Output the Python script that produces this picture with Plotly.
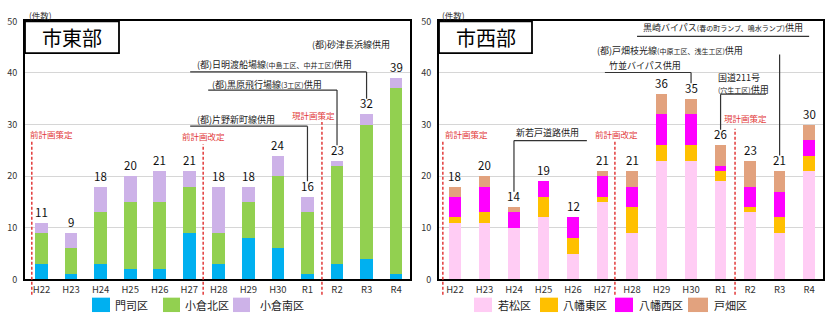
import plotly.graph_objects as go

W, H = 832, 319

years = ["H22", "H23", "H24", "H25", "H26", "H27", "H28", "H29", "H30", "R1", "R2", "R3", "R4"]

# 市東部
east_names = ["門司区", "小倉北区", "小倉南区"]
moji = [3, 1, 3, 2, 2, 9, 3, 8, 6, 1, 3, 4, 1]
kokura_kita = [6, 5, 10, 13, 13, 9, 6, 7, 14, 12, 19, 26, 36]
kokura_minami = [2, 3, 5, 5, 6, 3, 9, 3, 4, 3, 1, 2, 2]

# 市西部
west_names = ["若松区", "八幡東区", "八幡西区", "戸畑区"]
wakamatsu = [11, 11, 10, 12, 5, 15, 9, 23, 23, 19, 13, 9, 21]
yahata_higashi = [1, 2, 0, 4, 3, 1, 5, 3, 3, 2, 1, 3, 3]
yahata_nishi = [4, 5, 3, 3, 4, 4, 4, 6, 6, 1, 4, 5, 3]
tobata = [2, 2, 1, 0, 0, 1, 3, 4, 3, 4, 5, 4, 3]

east_colors = ["#00B0F0", "#92D050", "#CDB2E8"]
west_colors = ["#FFCCF4", "#FFC000", "#FF00FF", "#E2A27E"]

east_series = [moji, kokura_kita, kokura_minami]
west_series = [wakamatsu, yahata_higashi, yahata_nishi, tobata]
east_total = [sum(v) for v in zip(*east_series)]
west_total = [sum(v) for v in zip(*west_series)]

JP = "Noto Sans CJK JP"
RED = "#E23A3A"


def px(x):
    return x / W


def py(y):
    return 1 - y / H


fig = go.Figure()
for name, vals, col in zip(east_names, east_series, east_colors):
    fig.add_trace(go.Bar(x=years, y=vals, name=name, marker_color=col, marker_line_width=0,
                         width=0.43, xaxis="x", yaxis="y", showlegend=False))
for name, vals, col in zip(west_names, west_series, west_colors):
    fig.add_trace(go.Bar(x=years, y=vals, name=name, marker_color=col, marker_line_width=0,
                         width=0.39, xaxis="x2", yaxis="y2", showlegend=False))

annotations = []
shapes = []

# totals
for xr, yr, totals in (("x", "y", east_total), ("x2", "y2", west_total)):
    for yv, t in zip(years, totals):
        annotations.append(dict(x=yv, y=t, xref=xr, yref=yr, text=str(t), showarrow=False,
                                yanchor="bottom", yshift=1, font=dict(size=11.5, color="#111", family=JP)))


def small(s):
    return "<span style='font-size:7px'>" + s + "</span>"


def note(xr, yr, text, tx, ty, xanchor="left", under=None, vert=None, size=9):
    annotations.append(dict(x=tx, y=ty, xref=xr, yref=yr, text=text, showarrow=False,
                            xanchor=xanchor, yanchor="middle", align="left",
                            font=dict(size=size, color="#222", family=JP)))
    if under:
        x0, x1, yy = under
        shapes.append(dict(type="line", xref=xr, yref=yr, x0=x0, x1=x1, y0=yy, y1=yy,
                           line=dict(color="#333", width=1.2)))
    if vert:
        xx, y0, y1 = vert
        shapes.append(dict(type="line", xref=xr, yref=yr, x0=xx, x1=xx, y0=y0, y1=y1,
                           line=dict(color="#333", width=1.2)))


# east notes
note("x", "y", "(都)砂津長浜線供用", 11.87, 45.5, xanchor="right")
note("x", "y", "(都)日明渡船場線" + small("(中島工区、中井工区)") + "供用", 5.2, 41.6,
     under=(5.03, 11, 40.2), vert=(11, 40.2, east_total[11] + 3))
note("x", "y", "(都)黒原飛行場線" + small("(3工区)") + "供用", 5.7, 37.8,
     under=(5.64, 10, 36.7), vert=(10, 36.7, east_total[10] + 3))
note("x", "y", "(都)片野新町線供用", 5.2, 31.0,
     under=(5.03, 9, 29.7), vert=(9, 29.7, east_total[9] + 3))

# west notes
note("x2", "y2", "黒崎バイパス" + small("(春の町ランプ、鳴水ランプ)") + "供用", 6.3, 48.8,
     under=(6.17, 12, 47.1))
note("x2", "y2", "(都)戸畑枝光線" + small("(中原工区、浅生工区)") + "供用", 4.75, 44.4,
     vert=(11, 43.6, west_total[11] + 3))
note("x2", "y2", "竹並バイパス供用", 5.15, 41.4,
     under=(5.08, 8, 40.1), vert=(8, 40.1, west_total[8] + 3))
note("x2", "y2", "国道211号<br>" + small("(穴生工区)") + "供用", 8.85, 38.0,
     under=(9, 10.54, 35.9), vert=(9, 35.9, west_total[9] + 3))
note("x2", "y2", "新若戸道路供用", 2.0, 28.4,
     under=(2, 4.47, 26.9), vert=(2, 26.9, west_total[2] + 3))

# plan milestones (red)
for xr, yr, items in (
    ("x", "y", [("前計画策定", -0.46, 28.25, "left", -0.33, 26.8),
                ("前計画改定", 5.47, 27.7, "center", 5.47, 26.2),
                ("現計画策定", 9.22, 31.8, "center", 9.49, 30.5)]),
    ("x2", "y2", [("前計画策定", -0.41, 28.1, "left", -0.41, 26.8),
                  ("前計画改定", 5.46, 28.1, "center", 5.42, 26.8),
                  ("現計画策定", 9.86, 31.2, "center", 9.49, 29.2)]),
):
    for text, tx, ty, xa, lx, ly in items:
        annotations.append(dict(x=tx, y=ty, xref=xr, yref=yr, text=text, showarrow=False,
                                xanchor=xa, yanchor="middle",
                                font=dict(size=8.5, color=RED, family=JP)))
        shapes.append(dict(type="line", xref=xr, yref="paper", x0=lx, x1=lx,
                           y0=py(300), y1=py(284 - ly * 5.38),
                           line=dict(color=RED, width=1.5, dash="3px,2px")))

# title boxes
for x0, x1, title in ((25, 119, "市東部"), (439, 532, "市西部")):
    shapes.append(dict(type="rect", xref="paper", yref="paper", x0=px(x0), x1=px(x1),
                       y0=py(48), y1=py(15), fillcolor="white", line=dict(color="black", width=1.8)))
    annotations.append(dict(x=px((x0 + x1) / 2), y=py(32), xref="paper", yref="paper", text=title,
                            showarrow=False, xanchor="center", yanchor="middle",
                            font=dict(size=20, color="black", family=JP)))

# unit labels
for x0 in (27, 440):
    annotations.append(dict(x=px(x0), y=py(8), xref="paper", yref="paper", text="(件数)",
                            showarrow=False, xanchor="left", yanchor="middle",
                            font=dict(size=8.5, color="#333", family=JP)))

# legends (manual)
east_leg = [(92, 110, 113), (163, 180, 183), (233, 250, 258)]
west_leg = [(474, 492, 496), (540, 558, 561), (615, 633, 637), (688, 708, 712)]
for names, cols, pos in ((east_names, east_colors, east_leg), (west_names, west_colors, west_leg)):
    for name, col, (a, b, t) in zip(names, cols, pos):
        shapes.append(dict(type="rect", xref="paper", yref="paper", x0=px(a), x1=px(b),
                           y0=py(318), y1=py(303), fillcolor=col, line=dict(width=0)))
        annotations.append(dict(x=px(t), y=py(310.5), xref="paper", yref="paper", text=name,
                                showarrow=False, xanchor="left", yanchor="middle",
                                font=dict(size=11, color="#222", family=JP)))

xcommon = dict(type="category", showline=True, linecolor="black", linewidth=2, mirror=True,
               ticks="", tickfont=dict(size=9.5, color="#333", family=JP), showgrid=False,
               fixedrange=True)
ycommon = dict(range=[0, 50], dtick=10, showline=True, linecolor="black", linewidth=2, mirror=True,
               gridcolor="#D6D6D6", gridwidth=1, zeroline=False, ticks="",
               tickfont=dict(size=9, color="#333", family=JP), ticklabelstandoff=4,
               domain=[py(284), py(15)])

fig.update_layout(
    width=W, height=H,
    margin=dict(l=0, r=0, t=0, b=0),
    paper_bgcolor="white", plot_bgcolor="white",
    barmode="stack",
    showlegend=False,
    xaxis=dict(xcommon, domain=[px(25), px(410)], range=[-0.56, 12.47], anchor="y"),
    yaxis=dict(ycommon, anchor="x"),
    xaxis2=dict(xcommon, domain=[px(439), px(823)], range=[-0.54, 12.47], anchor="y2"),
    yaxis2=dict(ycommon, anchor="x2"),
    annotations=annotations,
    shapes=shapes,
    font=dict(family=JP),
)

fig.write_html("out.html", config={"displayModeBar": False},
               post_script="document.body.style.margin='0px';document.body.style.overflow='hidden';")
